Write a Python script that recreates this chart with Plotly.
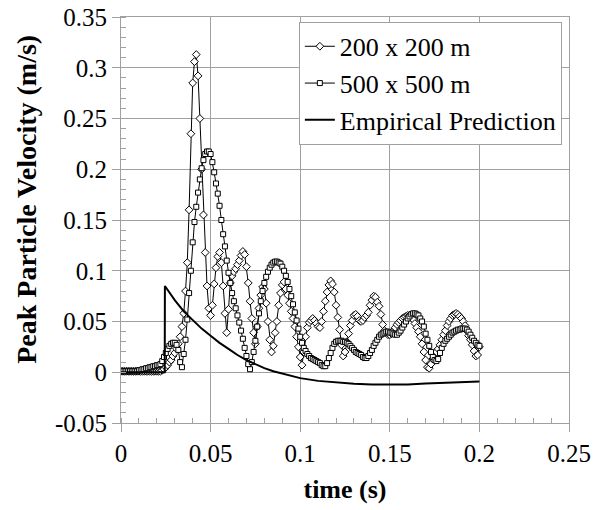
import numpy as np
import plotly.graph_objects as go

# time base (s), sampling step 0.001 s, 0 .. 0.2
TIME = np.round(np.arange(201) * 0.001, 3)

# 200 x 200 m model (diamonds)
S200 = [
    0.001, 0.001, 0.001, 0.001, 0.001, 0.001, 0.001, 0.001, 0.001, 0.001,
    0.001, 0.001, 0.001, 0.001, 0.001, 0.001, 0.001, 0.001, 0.001, 0.001,
    0.001, 0.001, 0.001, 0.002, 0.003, 0.005, 0.007, 0.010, 0.012, 0.016,
    0.019, 0.023, 0.028, 0.035, 0.045, 0.058, 0.080, 0.108, 0.160, 0.235,
    0.285, 0.306, 0.313, 0.292, 0.250, 0.200, 0.155, 0.118, 0.085, 0.063,
    0.056, 0.066, 0.087, 0.103, 0.114, 0.118, 0.108, 0.085, 0.058, 0.039,
    0.062, 0.088, 0.095, 0.099, 0.102, 0.106, 0.110, 0.115, 0.119, 0.116,
    0.104, 0.088, 0.070, 0.053, 0.039, 0.028, 0.045, 0.063, 0.076, 0.084,
    0.082, 0.068, 0.050, 0.032, 0.020, 0.026, 0.039, 0.050, 0.066, 0.078,
    0.086, 0.089, 0.082, 0.076, 0.068, 0.060, 0.053, 0.045, 0.035, 0.025,
    0.015, 0.007, 0.020, 0.035, 0.044, 0.049, 0.051, 0.053, 0.051, 0.048,
    0.045, 0.044, 0.050, 0.060, 0.070, 0.079, 0.086, 0.090, 0.087, 0.079,
    0.066, 0.054, 0.042, 0.027, 0.016, 0.020, 0.030, 0.038, 0.046, 0.051,
    0.056, 0.057, 0.055, 0.051, 0.050, 0.051, 0.054, 0.056, 0.059, 0.066,
    0.071, 0.075, 0.074, 0.069, 0.065, 0.057, 0.047, 0.041, 0.039, 0.037,
    0.037, 0.038, 0.041, 0.044, 0.047, 0.049, 0.051, 0.053, 0.054, 0.055,
    0.056, 0.056, 0.055, 0.052, 0.048, 0.044, 0.040, 0.035, 0.028, 0.020,
    0.012, 0.005, 0.004, 0.008, 0.013, 0.017, 0.020, 0.023, 0.027, 0.032,
    0.037, 0.041, 0.046, 0.050, 0.053, 0.056, 0.057, 0.058, 0.057, 0.055,
    0.053, 0.050, 0.046, 0.041, 0.036, 0.032, 0.027, 0.021, 0.016, 0.017,
    0.025,
]

# 500 x 500 m model (squares)
S500 = [
    0.001, 0.001, 0.001, 0.001, 0.001, 0.001, 0.001, 0.001, 0.001, 0.001,
    0.002, 0.002, 0.003, 0.003, 0.004, 0.004, 0.005, 0.005, 0.006, 0.006,
    0.007, 0.007, 0.008, 0.011, 0.015, 0.019, 0.023, 0.026, 0.028, 0.029,
    0.029, 0.027, 0.022, 0.010, 0.005, 0.018, 0.032, 0.052, 0.078, 0.100,
    0.128, 0.148, 0.163, 0.177, 0.190, 0.201, 0.209, 0.215, 0.2175, 0.2175,
    0.215, 0.207, 0.197, 0.186, 0.176, 0.164, 0.150, 0.136, 0.124, 0.110,
    0.098, 0.088, 0.078, 0.070, 0.063, 0.056, 0.049, 0.041, 0.033, 0.024,
    0.016, 0.008, 0.003, 0.010, 0.020, 0.031, 0.045, 0.058, 0.070, 0.080,
    0.088, 0.094, 0.099, 0.103, 0.106, 0.108, 0.109, 0.109, 0.108, 0.107,
    0.104, 0.100, 0.095, 0.089, 0.082, 0.075, 0.067, 0.059, 0.051, 0.043,
    0.035, 0.029, 0.024, 0.021, 0.018, 0.016, 0.014, 0.013, 0.012, 0.011,
    0.010, 0.009, 0.007, 0.006, 0.006, 0.009, 0.014, 0.019, 0.024, 0.028,
    0.030, 0.031, 0.031, 0.031, 0.030, 0.030, 0.029, 0.028, 0.026, 0.024,
    0.022, 0.020, 0.019, 0.018, 0.017, 0.015, 0.014, 0.014, 0.016, 0.019,
    0.022, 0.026, 0.029, 0.032, 0.035, 0.037, 0.038, 0.039, 0.040, 0.040,
    0.039, 0.039, 0.038, 0.037, 0.037, 0.039, 0.041, 0.044, 0.047, 0.050,
    0.053, 0.055, 0.057, 0.058, 0.058, 0.057, 0.056, 0.053, 0.050, 0.045,
    0.038, 0.032, 0.026, 0.020, 0.015, 0.012, 0.011, 0.013, 0.019, 0.024,
    0.028, 0.031, 0.033, 0.035, 0.037, 0.039, 0.040, 0.041, 0.042, 0.042,
    0.043, 0.043, 0.043, 0.042, 0.040, 0.037, 0.034, 0.031, 0.029, 0.027,
    0.026,
]

# Empirical prediction
EMP_T = [0.0, 0.0244, 0.0245, 0.030, 0.035, 0.040, 0.045, 0.050, 0.055, 0.060,
         0.065, 0.070, 0.075, 0.080, 0.085, 0.090, 0.095, 0.100, 0.110, 0.120,
         0.130, 0.140, 0.150, 0.160, 0.170, 0.180, 0.190, 0.200]
EMP_V = [0.0, 0.0, 0.085, 0.071, 0.060, 0.051, 0.043, 0.036, 0.029, 0.023,
         0.017, 0.012, 0.008, 0.004, 0.001, -0.0015, -0.004, -0.0058, -0.0085, -0.0103,
         -0.0114, -0.012, -0.0122, -0.012, -0.0112, -0.0103, -0.0097, -0.009]

X_TICKS = [0, 0.05, 0.1, 0.15, 0.2, 0.25]
X_LABELS = ["0", "0.05", "0.1", "0.15", "0.2", "0.25"]
Y_TICKS = [-0.05, 0, 0.05, 0.1, 0.15, 0.2, 0.25, 0.3, 0.35]
Y_LABELS = ["-0.05", "0", "0.05", "0.1", "0.15", "0.2", "0.25", "0.3", "0.35"]

FONT = "Liberation Serif"
GRID = "#a0a0a0"

fig = go.Figure()
fig.add_trace(go.Scatter(
    x=TIME, y=S200, mode="lines+markers", name="200 x 200 m",
    line=dict(color="black", width=1),
    marker=dict(symbol="diamond", size=6, color="white",
                line=dict(color="black", width=1)),
))
fig.add_trace(go.Scatter(
    x=TIME, y=S500, mode="lines+markers", name="500 x 500 m",
    line=dict(color="black", width=1),
    marker=dict(symbol="square", size=5, color="white",
                line=dict(color="black", width=1)),
))
fig.add_trace(go.Scatter(
    x=EMP_T, y=EMP_V, mode="lines", name="Empirical Prediction",
    line=dict(color="black", width=2),
))

axis_common = dict(
    showgrid=True, gridcolor=GRID, gridwidth=1,
    showline=True, linecolor=GRID, linewidth=1, mirror=True,
    zeroline=False, ticks="outside", ticklen=8, tickcolor=GRID, tickwidth=1,
    tickfont=dict(family=FONT, size=25, color="black"),
)

fig.update_layout(
    width=606, height=510,
    margin=dict(l=121, r=37, t=17, b=87),
    paper_bgcolor="white", plot_bgcolor="white",
    showlegend=True,
    legend=dict(
        x=0.397, y=0.988, xanchor="left", yanchor="top",
        bgcolor="white", bordercolor=GRID, borderwidth=1,
        font=dict(family=FONT, size=26, color="black"),
        itemwidth=30, tracegroupgap=0,
    ),
    xaxis=dict(
        range=[0, 0.25], tickmode="array", tickvals=X_TICKS, ticktext=X_LABELS,
        minor=dict(tickmode="linear", tick0=0, dtick=0.01, ticks="inside",
                   ticklen=5, tickcolor=GRID, showgrid=False),
        title=dict(text="time (s)", standoff=13,
                   font=dict(family=FONT, size=26, color="black", weight="bold")),
        automargin=False,
        **axis_common,
    ),
    yaxis=dict(
        range=[-0.05, 0.35], tickmode="array", tickvals=Y_TICKS, ticktext=Y_LABELS,
        minor=dict(tickmode="linear", tick0=0, dtick=0.01, ticks="inside",
                   ticklen=5, tickcolor=GRID, showgrid=False),
        automargin=False,
        **axis_common,
    ),
    annotations=[dict(
        text="Peak Particle Velocity (m/s)", textangle=-90,
        xref="paper", yref="paper", x=(27 - 121) / 448, y=(423.5 - 200) / 406.5,
        xanchor="center", yanchor="middle", showarrow=False,
        font=dict(family=FONT, size=28, color="black", weight="bold"),
    )],
)

fig.write_html("out.html", config={"displayModeBar": False},
               post_script="document.body.style.margin='0';")
